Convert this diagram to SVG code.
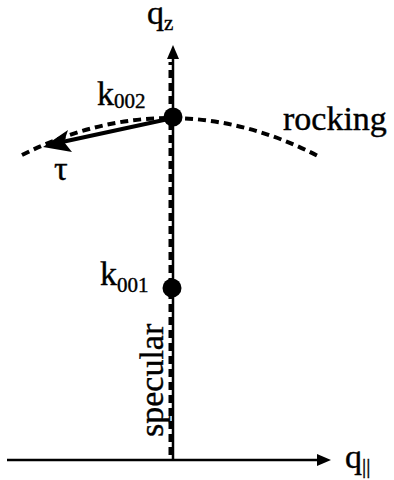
<svg xmlns="http://www.w3.org/2000/svg" width="394" height="480" viewBox="0 0 394 480">
<style>
.lbl{font-family:'Liberation Serif','Times New Roman',serif;font-size:34px;fill:#000;stroke:#000;stroke-width:0.4}
.sub{font-size:21px}
.axis{stroke:#000;stroke-width:2.5;fill:none}
.dash{stroke:#000;stroke-width:4;fill:none;stroke-dasharray:8 5}
</style>
<g id="connectors">
<line class="axis" x1="7" y1="460" x2="320" y2="460"/>
<polygon points="331,460 317,454 317,466" fill="#000"/>
<line class="axis" x1="173" y1="460" x2="173" y2="56"/>
<polygon points="173,45 167,59 179,59" fill="#000"/>
<line class="dash" x1="170.5" y1="455" x2="170.5" y2="62"/>
<path class="dash" d="M22,155 Q172,80 320,157"/>
<line stroke="#000" stroke-width="4" x1="173" y1="118" x2="62" y2="142"/>
<polygon points="43,147 72,152 64,142 68,130" fill="#000"/>
</g>
<g id="k002"><circle cx="173" cy="117" r="9.5"/></g>
<g id="k001"><circle cx="172" cy="288" r="9.5"/></g>
<g id="labels">
<text class="lbl" x="147" y="24">q<tspan class="sub" dy="6">z</tspan></text>
<text class="lbl" x="97" y="105">k<tspan class="sub" dy="3">002</tspan></text>
<text class="lbl" x="100" y="285">k<tspan class="sub" dy="7">001</tspan></text>
<text class="lbl" x="283" y="130">rocking</text>
<text class="lbl" x="54" y="180">τ</text>
<text class="lbl" transform="translate(163,437) rotate(-90)">specular</text>
<text class="lbl" x="345" y="468">q<tspan class="sub" dy="5">||</tspan></text>
</g>
</svg>
